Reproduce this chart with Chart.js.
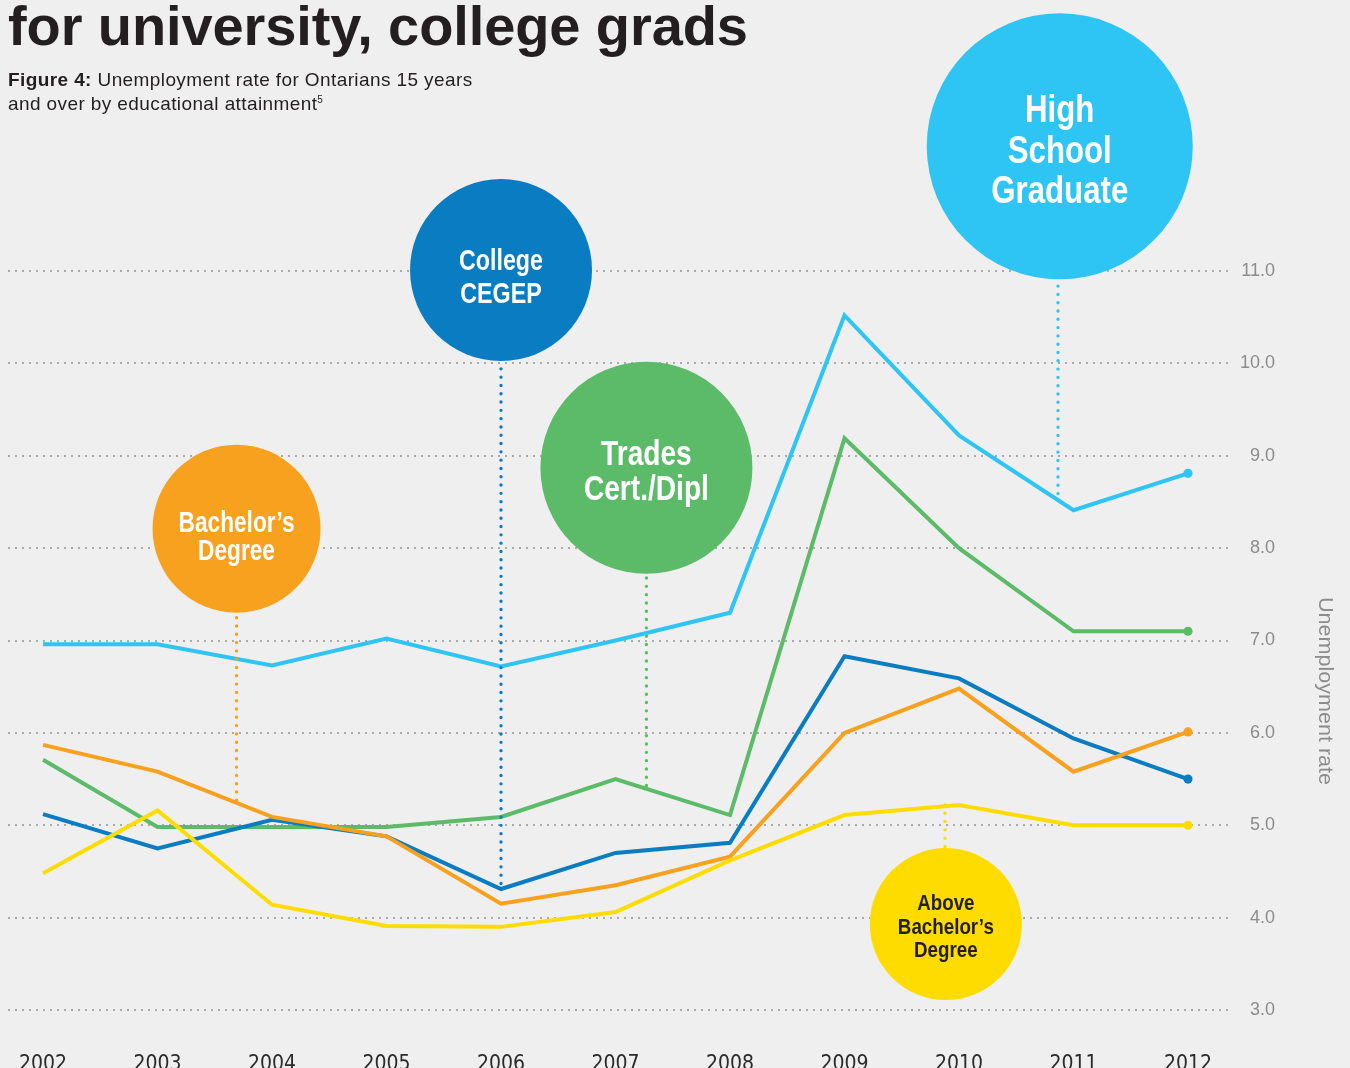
<!DOCTYPE html>
<html>
<head>
<meta charset="utf-8">
<title>Unemployment rate by educational attainment</title>
<script src="https://cdn.jsdelivr.net/npm/chart.js@4.4.1/dist/chart.umd.min.js"></script>
<style>
  html, body { margin: 0; padding: 0; background: #efefef; }
  body { width: 1350px; height: 1068px; position: relative; overflow: hidden;
         font-family: 'Liberation Sans', Arial, sans-serif; color: #231f20; }
  #chart { position: absolute; left: 0; top: 0; }
  h1 { position: absolute; left: 8px; top: -2px; margin: 0; font-size: 56px; line-height: 55px;
       font-weight: bold; letter-spacing: -0.1px; white-space: nowrap; }
  .sub { position: absolute; left: 8px; top: 68px; font-size: 19px; line-height: 24px;
         letter-spacing: 0.4px; white-space: nowrap; }
  .sub sup { font-size: 10px; vertical-align: 7px; line-height: 0; letter-spacing: 0; }
</style>
</head>
<body>
<canvas id="chart" width="1350" height="1068"></canvas>
<h1>for university, college grads</h1>
<div class="sub"><b>Figure 4:</b> Unemployment rate for Ontarians 15 years<br>and over by educational attainment<sup>5</sup></div>
<script>
// ---------- data ----------
const years = [2002, 2003, 2004, 2005, 2006, 2007, 2008, 2009, 2010, 2011, 2012];
const rateTicks = [3.0, 4.0, 5.0, 6.0, 7.0, 8.0, 9.0, 10.0, 11.0];

const aboveBachelors = [4.48, 5.16, 4.14, 3.91, 3.90, 4.06, 4.62, 5.11, 5.22, 5.00, 5.00];
const bachelors      = [5.87, 5.58, 5.09, 4.88, 4.15, 4.35, 4.66, 6.00, 6.48, 5.58, 6.01];
const college        = [5.12, 4.75, 5.06, 4.88, 4.31, 4.70, 4.81, 6.83, 6.59, 5.94, 5.50];
const trades         = [5.71, 4.98, 4.98, 4.98, 5.09, 5.50, 5.11, 9.19, 8.00, 7.10, 7.10];
const highSchool     = [6.96, 6.96, 6.73, 7.02, 6.72, 7.00, 7.30, 10.52, 9.22, 8.41, 8.81];

const seriesNames = ["Above Bachelor's Degree", "Bachelor's Degree", "College CEGEP", "Trades Cert./Dipl", "High School Graduate"];
const seriesValues = [aboveBachelors, bachelors, college, trades, highSchool];
const seriesColors = ['#ffdc00', '#f7a11f', '#0a7cc2', '#5bbb68', '#2ec4f3'];

// ---------- bubble labels (anchored in data units) ----------
const bubbles = [
  { lines: ['Bachelor’s', 'Degree'], fill: '#f7a11f', ink: '#ffffff',
    x: 2003.69, y: 8.21, r: 84, size: 30, lh: 28, first: 3, w: 116, lineTo: 5.27 },
  { lines: ['College', 'CEGEP'], fill: '#0a7cc2', ink: '#ffffff',
    x: 2006.0, y: 11.01, r: 91, size: 30, lh: 33, first: 0, w: 84, lineTo: 4.37 },
  { lines: ['Trades', 'Cert./Dipl'], fill: '#5bbb68', ink: '#ffffff',
    x: 2007.27, y: 8.87, r: 106, size: 35, lh: 35, first: -3, w: 125, lineTo: 5.43 },
  { lines: ['High', 'School', 'Graduate'], fill: '#2ec4f3', ink: '#ffffff',
    x: 2010.88, y: 12.35, r: 133, size: 39, lh: 40.5, first: -24, w: 137, lineX: 2010.865, lineTo: 8.59 },
  { lines: ['Above', 'Bachelor’s', 'Degree'], fill: '#ffdc00', ink: '#231f20',
    x: 2009.885, y: 3.93, r: 76, size: 21.5, lh: 23.5, first: -14, w: 96, lineX: 2009.878, lineTo: 5.22 }
];

const sans = "'Liberation Sans', Arial, sans-serif";
const condensed = "'DejaVu Sans Condensed', 'Liberation Sans', sans-serif";

const bubblePlugin = {
  id: 'bubbles',
  afterDatasetsDraw(chart) {
    const { ctx, scales: { x, y } } = chart;
    bubbles.forEach(b => {
      const cx = x.getPixelForValue(b.x);
      const cy = y.getPixelForValue(b.y);
      const lx = x.getPixelForValue(b.lineX ?? b.x);
      const ly = y.getPixelForValue(b.lineTo);
      const edge = ly > cy ? cy + b.r : cy - b.r;

      ctx.save();
      // dotted leader, dots start at the data end
      ctx.strokeStyle = b.fill;
      ctx.lineWidth = 3.4;
      ctx.lineCap = 'round';
      ctx.setLineDash([0, 8.3]);
      ctx.beginPath();
      ctx.moveTo(lx, ly);
      ctx.lineTo(lx, edge);
      ctx.stroke();
      ctx.setLineDash([]);

      // disc
      ctx.fillStyle = b.fill;
      ctx.beginPath();
      ctx.arc(cx, cy, b.r, 0, Math.PI * 2);
      ctx.fill();

      // label, squeezed to the width of the original lettering
      ctx.font = `bold ${b.size}px ${sans}`;
      ctx.fillStyle = b.ink;
      ctx.textAlign = 'center';
      ctx.textBaseline = 'alphabetic';
      const widest = Math.max(...b.lines.map(l => ctx.measureText(l).width));
      const sx = b.w / widest;
      b.lines.forEach((line, i) => {
        ctx.save();
        ctx.translate(cx, cy + b.first + i * b.lh);
        ctx.scale(sx, 1);
        ctx.fillText(line, 0, 0);
        ctx.restore();
      });
      ctx.restore();
    });
  }
};

// y axis title drawn by hand so it sits where the original has it
const axisTitlePlugin = {
  id: 'axisTitle',
  afterDraw(chart) {
    const { ctx } = chart;
    const text = 'Unemployment rate';
    ctx.save();
    ctx.font = `20px ${sans}`;
    ctx.fillStyle = '#8c8c8c';
    ctx.textAlign = 'center';
    ctx.textBaseline = 'middle';
    const sx = 188 / ctx.measureText(text).width;
    ctx.translate(1325, 691);
    ctx.rotate(Math.PI / 2);
    ctx.scale(sx, 1);
    ctx.fillText(text, 0, 0);
    ctx.restore();
  }
};

const datasets = seriesNames.map((name, i) => ({
  label: name,
  data: years.map((yr, j) => ({ x: yr, y: seriesValues[i][j] })),
  borderColor: seriesColors[i],
  backgroundColor: seriesColors[i],
  borderWidth: 4,
  borderJoinStyle: 'miter',
  tension: 0,
  fill: false,
  pointRadius: ctx => (ctx.dataIndex === years.length - 1 ? 4.6 : 0),
  pointBorderWidth: 0,
  pointHoverRadius: 0
}));

new Chart(document.getElementById('chart'), {
  type: 'line',
  data: { datasets },
  options: {
    responsive: false,
    devicePixelRatio: 1,
    animation: false,
    events: [],
    layout: { padding: { left: 8, top: 271, right: 75, bottom: 0 } },
    plugins: { legend: { display: false }, tooltip: { enabled: false } },
    scales: {
      x: {
        type: 'linear',
        min: years[0] - 0.306,
        max: years[years.length - 1] + 0.367,
        grid: { display: false },
        border: { display: false },
        ticks: {
          stepSize: 1,
          includeBounds: false,
          autoSkip: false,
          maxRotation: 0,
          padding: 34,
          color: '#2b2b2b',
          font: { family: condensed, size: 21 },
          callback: v => String(v)
        },
        afterFit: s => { s.height = 58; s.paddingLeft = 0; s.paddingRight = 0; }
      },
      y: {
        position: 'right',
        min: rateTicks[0],
        max: rateTicks[rateTicks.length - 1],
        grid: { color: '#aaaaaa', lineWidth: 2, drawTicks: false },
        border: { display: false, dash: [2, 5] },
        ticks: {
          stepSize: 1,
          padding: 8,
          crossAlign: 'far',
          color: '#8c8c8c',
          font: { family: sans, size: 18 },
          callback: v => Number(v).toFixed(1)
        },
        afterFit: s => { s.width = 45; s.paddingTop = 0; s.paddingBottom = 0; }
      }
    }
  },
  plugins: [bubblePlugin, axisTitlePlugin]
});
</script>
</body>
</html>
